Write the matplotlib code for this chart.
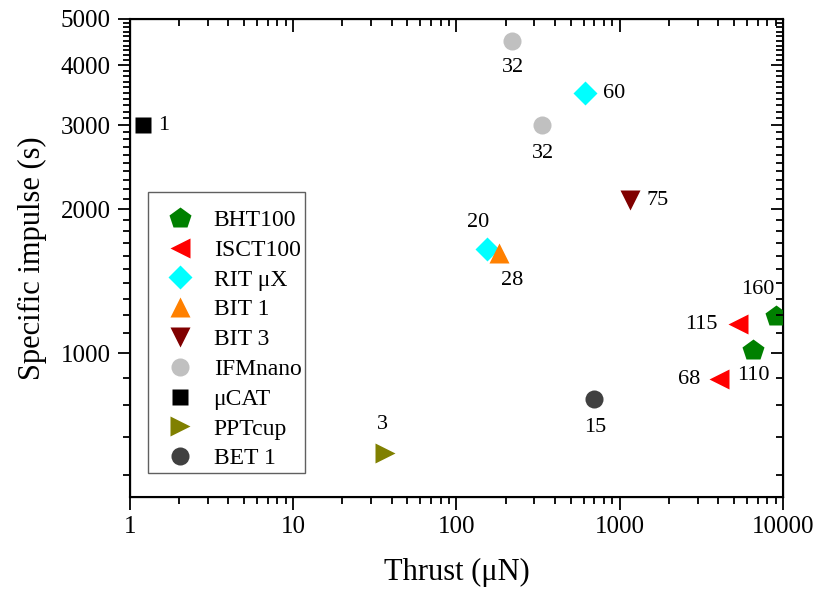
import numpy as np
from matplotlib import pyplot as plt
from matplotlib.patches import Rectangle

plt.rcParams['font.family'] = ['Liberation Serif', 'DejaVu Serif']

# thruster data: thrust (uN), specific impulse (s), mass/power label
names = ['BHT100', 'ISCT100', 'RIT \u03bcX', 'BIT 1', 'BIT 3', 'IFMnano', '\u03bcCAT', 'PPTcup', 'BET 1']
thrust = [[9060, 6550], [5300, 4050], [612, 154], [182], [1150], [219, 334], [1.2], [36.5], [695]]
isp = [[1195, 1015], [1150, 882], [3500, 1650], [1620], [2090], [4500, 3000], [3000], [617], [800]]
labels = [['160', '110'], ['115', '68'], ['60', '20'], ['28'], ['75'], ['32', '32'], ['1'], ['3'], ['15']]

colors = ['#008000', '#FF0000', '#00FFFF', '#FF8000', '#800000', '#C0C0C0', '#000000', '#808000', '#404040']
markers = ['p', '<', 'D', '^', 'v', 'o', 's', '>', 'o']
msizes = [16, 15, 12, 15, 15, 13, 11, 15, 13]
# label offsets in pixels (dx, dy, ha)
offsets = [[(-18, 27, 'center'), (0, -25, 'center')],
           [(-20, 0, 'right'), (-19, 0, 'right')],
           [(18, 0, 'left'), (-9, 27, 'center')],
           [(13, -28, 'center')],
           [(17, 0, 'left')],
           [(1, -27, 'center'), (1, -28, 'center')],
           [(15, 0, 'left')],
           [(-3, 29, 'center')],
           [(1, -28, 'center')]]

fig = plt.figure(figsize=(8.15, 5.9), dpi=100)
ax = fig.add_axes([0.1595, 0.1576, 0.8012, 0.8102])

for i in range(len(names)):
    ax.plot(thrust[i], isp[i], ls='none', marker=markers[i], ms=msizes[i],
            color=colors[i], mec='none', label=names[i], zorder=3)
    for x, y, t, (dx, dy, ha) in zip(thrust[i], isp[i], labels[i], offsets[i]):
        ax.annotate(t, (x, y), xytext=(dx * 0.72, dy * 0.72), textcoords='offset points',
                    ha=ha, va='center', fontsize=16)

ax.set_xscale('log')
ax.set_yscale('log')
ax.set_xlim(1, 10000)
ax.set_ylim(500, 5000)

yt = [1000, 2000, 3000, 4000, 5000]
ymin = [1000 * k / 9 for k in range(5, 9)] + [v for v in range(1100, 5000, 100) if v % 1000]
ax.set_xticks([1, 10, 100, 1000, 10000], ['1', '10', '100', '1000', '10000'])
ax.set_yticks(yt, [str(v) for v in yt])
ax.set_yticks(ymin, minor=True)
ax.yaxis.set_minor_formatter(plt.NullFormatter())
ax.tick_params(which='both', direction='out', width=1.3, labelsize=18, top=False, right=False)
ax.tick_params(which='major', length=9, pad=5)
ax.tick_params(which='minor', length=5)
for s in ax.spines.values():
    s.set_linewidth(1.5)

# inward ticks on top and right
axr = ax.twinx()
axr.set_yscale('log')
axr.set_ylim(500, 5000)
axr.set_yticks(yt, [''] * len(yt))
axr.set_yticks(ymin, minor=True)
axr.yaxis.set_minor_formatter(plt.NullFormatter())
axr.tick_params(which='both', direction='in', width=1.3)
axr.tick_params(which='major', length=9)
axr.tick_params(which='minor', length=5)
axt = ax.twiny()
axt.set_xscale('log')
axt.set_xlim(1, 10000)
axt.set_xticks([1, 10, 100, 1000, 10000], [''] * 5)
axt.xaxis.set_minor_formatter(plt.NullFormatter())
axt.tick_params(which='both', direction='in', width=1.3)
axt.tick_params(which='major', length=9)
axt.tick_params(which='minor', length=5)

ax.set_xlabel('Thrust (\u03bcN)', fontsize=22, labelpad=14)
ax.set_ylabel('Specific impulse (s)', fontsize=22, labelpad=10)

# legend box drawn separately so the padding can match
ax.add_patch(Rectangle((0.0276, 0.0502), 0.2404, 0.588, transform=ax.transAxes,
                       fill=True, facecolor='white', edgecolor='#606060', lw=1.0, zorder=4))
leg = ax.legend(loc='upper left', bbox_to_anchor=(0.0467, 0.6015), fontsize=17, frameon=False,
                handletextpad=0.6, labelspacing=0.35, borderpad=0, handlelength=1.65,
                borderaxespad=0)
leg.set_zorder(5)

fig.savefig('out.png', dpi=100)
